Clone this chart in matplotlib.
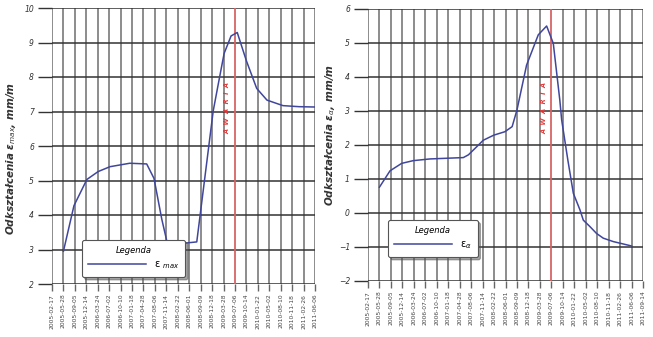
import numpy as np
import matplotlib.pyplot as plt
import datetime as dt

# measurement series: eps_max
dates_max = ['2005-05-28', '2005-08-28', '2005-12-19', '2006-03-28', '2006-07-09',
             '2006-12-29', '2007-05-26', '2007-07-29', '2007-10-05', '2007-11-19',
             '2008-02-12', '2008-08-06', '2008-12-28', '2009-02-11', '2009-04-02',
             '2009-06-02', '2009-07-26', '2009-10-14', '2010-01-12', '2010-04-12',
             '2010-08-30', '2011-01-17', '2011-06-06']
eps_max = [2.95, 4.27, 5.03, 5.26, 5.40,
           5.50, 5.48, 5.06, 3.88, 3.23,
           3.16, 3.22, 7.02, 7.81, 8.68,
           9.19, 9.29, 8.47, 7.67, 7.33,
           7.17, 7.14, 7.13]

# measurement series: eps_alpha
dates_a = ['2005-05-28', '2005-08-28', '2005-12-08', '2006-03-19', '2006-08-12',
           '2007-05-30', '2007-07-13', '2007-09-09', '2007-11-20', '2008-02-20',
           '2008-05-26', '2008-07-29', '2008-09-09', '2008-12-02', '2009-03-14',
           '2009-05-26', '2009-07-23', '2009-09-18', '2009-10-04', '2009-11-27',
           '2010-01-14', '2010-03-13', '2010-04-11', '2010-06-08', '2010-08-04',
           '2010-10-02', '2010-12-28', '2011-06-06']
eps_a = [0.76, 1.24, 1.46, 1.54, 1.59,
         1.63, 1.71, 1.90, 2.14, 2.29,
         2.39, 2.54, 3.03, 4.35, 5.24,
         5.50, 4.99, 3.32, 2.74, 1.56,
         0.58, 0.09, -0.21, -0.40, -0.60,
         -0.74, -0.84, -0.97]

awaria = '2009-07-06'
start = dt.date(2005, 2, 17)
n_ticks_left = 24
n_ticks_right = 25
step_days = 100


def to_dates(lst):
    return [dt.datetime.strptime(s, '%Y-%m-%d') for s in lst]


line_col = '#40469c'
red = '#f26b6b'

fig = plt.figure(figsize=(6.53, 3.37), dpi=100)
ax1 = fig.add_axes([52 / 653, 1 - 284 / 337, 263 / 653, 276 / 337])
ax2 = fig.add_axes([368 / 653, 1 - 281 / 337, 275 / 653, 272 / 337])


def style(ax, nt, ylim):
    ticks = [start + dt.timedelta(days=step_days * i) for i in range(nt)]
    ax.set_xlim(ticks[0], ticks[-1])
    ax.set_ylim(*ylim)
    ax.set_xticks(ticks)
    ax.set_xticklabels([t.strftime('%Y-%m-%d') for t in ticks], rotation=90,
                       fontsize=4.3, color='#444444')
    ax.set_yticks(np.arange(ylim[0], ylim[1] + 1))
    ax.tick_params(axis='y', length=10, width=1, color='#333333', labelsize=5.5,
                   labelcolor='#333333', pad=3)
    ax.tick_params(axis='x', length=5, width=1, color='#666666', pad=2)
    for lbl in ax.get_yticklabels():
        lbl.set_fontstyle('italic')
    ax.grid(axis='x', color='#6e6e6e', lw=1.1)
    ax.grid(axis='y', color='#333333', lw=1.1)
    ax.set_axisbelow(True)
    for s in ax.spines.values():
        s.set_visible(False)
    ax.axvline(dt.datetime.strptime(awaria, '%Y-%m-%d'), color=red, lw=1.1, zorder=2)


style(ax1, n_ticks_left, (2, 10))
style(ax2, n_ticks_right, (-2, 6))

ax1.plot(to_dates(dates_max), eps_max, color=line_col, lw=1.1, zorder=3,
         label='ε $_{max}$')
ax2.plot(to_dates(dates_a), eps_a, color=line_col, lw=1.1, zorder=3,
         label='ε$_{α}$')

# failure marker text
aw = dt.datetime.strptime(awaria, '%Y-%m-%d') - dt.timedelta(days=62)
ax1.text(aw, 7.1, 'A  W  A  R  I  A', rotation=90, color='#e23b3b', fontsize=4.7,
         fontstyle='italic', fontweight='bold', ha='center', va='center')
ax2.text(aw, 3.1, 'A  W  A  R  I  A', rotation=90, color='#e23b3b', fontsize=4.7,
         fontstyle='italic', fontweight='bold', ha='center', va='center')

for ax, anchor in ((ax1, (0.114, 0.025)), (ax2, (0.073, 0.088))):
    leg = ax.legend(title='Legenda', loc='lower left', bbox_to_anchor=anchor,
                    borderaxespad=0, fancybox=True, shadow=True, fontsize=7,
                    handlelength=6, framealpha=1, edgecolor='#555555',
                    borderpad=0.6, title_fontsize=6)
    leg.get_title().set_fontstyle('italic')
    leg.get_frame().set_linewidth(0.8)

fig.text(0.017, 0.53, 'Odkształcenia ε$_{max}$, mm/m', rotation=90,
         fontsize=7.5, fontstyle='italic', fontweight='bold', color='#333333',
         ha='center', va='center')
fig.text(0.505, 0.6, 'Odkształcenia ε$_{α}$, mm/m', rotation=90,
         fontsize=7.5, fontstyle='italic', fontweight='bold', color='#333333',
         ha='center', va='center')

fig.savefig('out.png', dpi=100)
